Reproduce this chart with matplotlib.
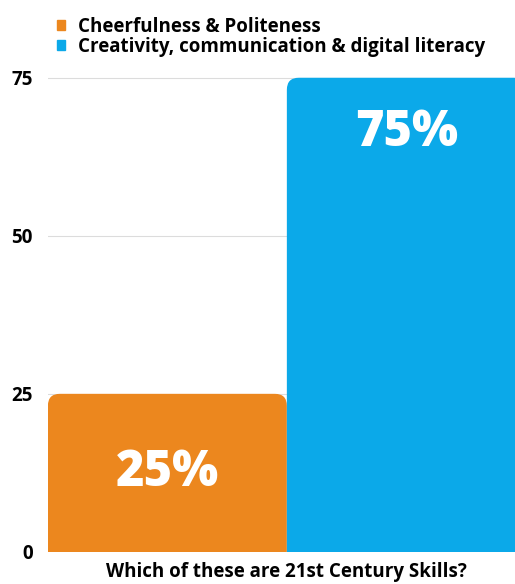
import numpy as np
import matplotlib.pyplot as plt
from matplotlib.patches import FancyBboxPatch

# dados do gráfico
categorias = ["Cheerfulness & Politeness", "Creativity, communication & digital literacy"]
valores = [25, 75]
cores = ["#EC871E", "#0BA9E9"]
yticks = [0, 25, 50, 75]
titulo_x = "Which of these are 21st Century Skills?"

plt.rcParams['font.family'] = ['Open Sans', 'DejaVu Sans']

fig = plt.figure(figsize=(5.15, 5.84), dpi=100)
# o eixo passa um pouco da borda direita (a barra azul fica cortada)
ax = fig.add_axes([0.093, 0.055, 0.928, 0.866])

x = np.arange(len(valores))
barras = ax.bar(x, valores, width=1.0, color=cores, label=categorias)

# trocar os retângulos por caixas com cantos arredondados (só em cima)
for b, c in zip(barras, cores):
    bx, by = b.get_x(), b.get_y()
    w, h = b.get_width(), b.get_height()
    b.set_visible(False)
    p = FancyBboxPatch((bx, by - 3), w, h + 3,
                       boxstyle="round,pad=0,rounding_size=0.05",
                       mutation_aspect=38, facecolor=c, edgecolor='none',
                       zorder=2)
    ax.add_patch(p)

ax.set_xlim(-0.5, 1.5)
ax.set_ylim(0, 80)

# rótulos dos valores
for xi, v in zip(x, valores):
    if v > 50:
        ax.annotate(f"{v}%", (xi, v), xytext=(0, -40), textcoords='offset points',
                    ha='center', va='center', color='white', fontsize=35, fontweight='heavy', zorder=3)
    else:
        ax.text(xi, v / 2, f"{v}%", ha='center', va='center', color='white',
                fontsize=35, fontweight='heavy', zorder=3)

ax.set_yticks(yticks)
ax.set_yticklabels([str(t) for t in yticks], fontsize=13.5, fontweight='bold')
ax.tick_params(axis='y', length=0, pad=11)
ax.set_xticks([])
ax.grid(axis='y', color='#dcdcdc', linewidth=0.8, zorder=0)
ax.set_axisbelow(True)
for s in ['top', 'right', 'left', 'bottom']:
    ax.spines[s].set_visible(False)

ax.set_xlabel(titulo_x, fontsize=13.5, fontweight='bold', labelpad=7)

handles = [plt.Rectangle((0, 0), 1, 1, color=c) for c in cores]
leg = fig.legend(handles, categorias, loc='upper left', bbox_to_anchor=(0.077, 1.0),
                 frameon=False, prop={'weight': 'bold', 'size': 13.5},
                 handlelength=0.45, handleheight=0.45, handletextpad=0.7, labelspacing=0.0)

fig.savefig('out.png', dpi=100)
